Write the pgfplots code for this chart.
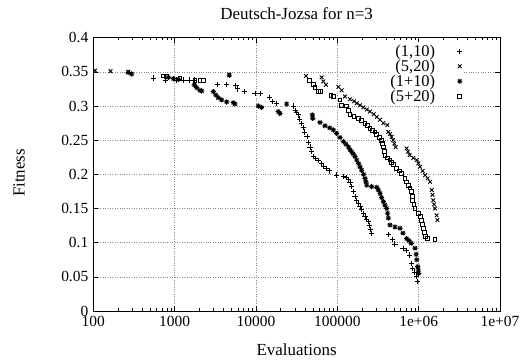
\documentclass[border=0pt]{standalone}
\usepackage{fontspec}
\setmainfont{Liberation Serif}
\usepackage{pgfplots}
\pgfplotsset{compat=1.18}
\pgfdeclareplotmark{gpstar}{%
  \pgfpathmoveto{\pgfqpoint{-\pgfplotmarksize}{0pt}}\pgfpathlineto{\pgfqpoint{\pgfplotmarksize}{0pt}}%
  \pgfpathmoveto{\pgfqpoint{0pt}{-\pgfplotmarksize}}\pgfpathlineto{\pgfqpoint{0pt}{\pgfplotmarksize}}%
  \pgfpathmoveto{\pgfqpoint{-0.7\pgfplotmarksize}{-0.7\pgfplotmarksize}}\pgfpathlineto{\pgfqpoint{0.7\pgfplotmarksize}{0.7\pgfplotmarksize}}%
  \pgfpathmoveto{\pgfqpoint{-0.7\pgfplotmarksize}{0.7\pgfplotmarksize}}\pgfpathlineto{\pgfqpoint{0.7\pgfplotmarksize}{-0.7\pgfplotmarksize}}%
  \pgfusepathqstroke}
\begin{document}
\begin{tikzpicture}
\useasboundingbox (0,0) rectangle (525bp,363bp);
\begin{axis}[
  at={(93.3bp,52bp)}, anchor=south west,
  scale only axis, width=406.7bp, height=273.3bp,
  xmode=log, xmin=100, xmax=1e7, ymin=0, ymax=0.4,
  xtick={100,1000,10000,100000,1000000,10000000},
  xticklabels={100,1000,10000,100000,1e+06,1e+07},
  ytick={0,0.05,0.1,0.15,0.2,0.25,0.3,0.35,0.4},
  yticklabels={0,0.05,0.1,0.15,0.2,0.25,0.3,0.35,0.4},
  tick label style={font=\fontsize{15.5}{17}\selectfont},
  /pgf/number format/assume math mode=true,
  grid=major, major grid style={dotted, gray!90, line width=0.6pt},
  tick align=inside, major tick length=5bp, minor tick length=2.5bp,
  axis line style={line width=0.8pt},
  every tick/.style={black, line width=0.5pt},
  xticklabel style={yshift=-2bp},
  yticklabel style={xshift=-1.5bp},
  legend cell align=right, legend plot pos=right,
  legend style={at={(0.912,0.985)}, anchor=north east, draw=none, fill=white,
    font=\fontsize{16.5}{17}\selectfont, row sep=-2bp, inner sep=1bp},
  every axis plot/.append style={only marks, black, line width=0.9pt,
    legend image code/.code={\path (0cm,0cm) (0.88cm,0cm); \draw[##1, mark repeat=2, mark phase=2] plot coordinates {(0cm,0cm)(0.78cm,0cm)(0.88cm,0cm)};}},
]
% (1,10)
\addplot[mark=+, mark size=2.6bp] coordinates {
(547,0.341)(774,0.338)(1050,0.338)(1280,0.338)(1500,0.338)(1746,0.338)
(3350,0.331)(4360,0.331)(5670,0.330)(5890,0.325)(7190,0.321)(9730,0.318)(11200,0.318)
(14600,0.313)(15900,0.307)(17900,0.304)
(28800,0.300)(30300,0.294)(31500,0.290)(33000,0.287)(34500,0.281)(36100,0.275)(38000,0.268)(39900,0.262)(42500,0.255)
(44000,0.247)(46200,0.240)(48200,0.233)(50700,0.226)(54000,0.223)(58000,0.220)(63600,0.216)(68000,0.212)(73400,0.209)
(80600,0.205)(98000,0.199)(119000,0.197)(128000,0.195)(137000,0.193)(143000,0.188)(150000,0.182)(157000,0.175)(165000,0.167)
(173000,0.162)(182000,0.158)(190000,0.153)(199000,0.148)(210000,0.143)(219000,0.138)(230000,0.134)(240000,0.131)
(250000,0.125)(258000,0.119)(264000,0.114)
(424000,0.112)(474000,0.105)(511000,0.098)(641000,0.092)(700000,0.088)(775000,0.082)(810000,0.070)(848000,0.062)
(900000,0.057)(947000,0.050)(975000,0.043)
};
\addlegendentry{(1,10)}
% (5,20)
\addplot[mark=x, mark size=2.6bp] coordinates {
(105,0.352)(163,0.351)(269,0.350)(4700,0.346)
(41200,0.344)(64100,0.342)(67300,0.336)(72600,0.331)(103000,0.328)(113000,0.323)(124000,0.314)
(143000,0.310)(160000,0.307)(173000,0.304)(190000,0.301)(209000,0.298)(230000,0.295)(252000,0.292)(280000,0.288)
(305000,0.284)(335000,0.280)(368000,0.275)(412000,0.272)(424000,0.262)(445000,0.259)(465000,0.255)(485000,0.250)
(502000,0.245)(521000,0.240)(711000,0.238)(740000,0.233)(775000,0.228)(860000,0.224)(947000,0.221)
(990000,0.216)(1038000,0.211)(1120000,0.205)(1200000,0.199)(1290000,0.194)(1380000,0.189)(1450000,0.177)
(1480000,0.170)(1510000,0.162)(1550000,0.156)(1590000,0.150)(1660000,0.140)(1700000,0.133)
};
\addlegendentry{(5,20)}
% (1+10)
\addplot[mark=gpstar, mark size=2.6bp] coordinates {
(269,0.349)(296,0.347)(836,0.342)(964,0.340)(1110,0.339)
(1746,0.331)(1860,0.327)(2050,0.323)(2150,0.322)
(2990,0.321)(3220,0.316)(3440,0.312)(3780,0.309)(4360,0.306)(4700,0.345)(5260,0.305)(5520,0.303)
(10700,0.300)(11700,0.298)(18800,0.292)(19700,0.289)(23800,0.303)
(49300,0.287)(49800,0.282)(61200,0.276)(70500,0.271)(80600,0.268)(89300,0.265)(98000,0.260)
(108000,0.254)(119000,0.248)(128000,0.244)(137000,0.240)(143000,0.236)(150000,0.233)(157000,0.230)(165000,0.226)
(173000,0.221)(182000,0.216)(190000,0.211)(199000,0.206)(210000,0.200)(219000,0.194)(225000,0.189)(230000,0.184)
(264000,0.182)(305000,0.181)(320000,0.177)(336000,0.172)(350000,0.166)(368000,0.160)(385000,0.155)(405000,0.150)
(415000,0.143)(424000,0.136)(444000,0.126)(511000,0.123)(589000,0.121)(641000,0.114)(711000,0.106)(760000,0.103)
(810000,0.099)(902000,0.092)(930000,0.083)(947000,0.075)(975000,0.065)(990000,0.060)(1000000,0.055)
};
\addlegendentry{(1+10)}
% (5+20)
\addplot[mark=square, mark size=1.9bp] coordinates {
(727,0.344)(798,0.343)(1164,0.340)(1778,0.338)(2050,0.337)(2250,0.337)
(45300,0.337)(50700,0.331)(53100,0.327)(58000,0.321)(62000,0.321)(83600,0.316)(89300,0.314)(108000,0.309)
(113000,0.301)(130000,0.300)(137000,0.294)(143000,0.288)(160000,0.285)(182000,0.282)(200000,0.279)(219000,0.275)
(235000,0.271)(252000,0.267)(270000,0.264)(290000,0.262)(305000,0.258)(330000,0.254)(351000,0.250)(360000,0.245)
(368000,0.240)(378000,0.234)(386000,0.228)(415000,0.224)(444000,0.221)(465000,0.218)(489000,0.214)(537000,0.209)
(575000,0.205)(618000,0.201)(679000,0.194)(710000,0.189)(747000,0.184)(780000,0.180)(810000,0.175)(830000,0.168)
(848000,0.162)(875000,0.156)(902000,0.150)(1000000,0.143)(1040000,0.138)(1090000,0.133)(1115000,0.127)
(1140000,0.121)(1170000,0.115)(1200000,0.109)(1290000,0.106)(1590000,0.105)
};
\addlegendentry{(5+20)}
\end{axis}
\node[font=\fontsize{17}{17}\selectfont] at (296.6bp,349bp) {Deutsch-Jozsa for n=3};
\node[font=\fontsize{17}{17}\selectfont] at (296.6bp,13bp) {Evaluations};
\node[font=\fontsize{17}{17}\selectfont, rotate=90] at (19bp,190bp) {Fitness};
\end{tikzpicture}
\end{document}
